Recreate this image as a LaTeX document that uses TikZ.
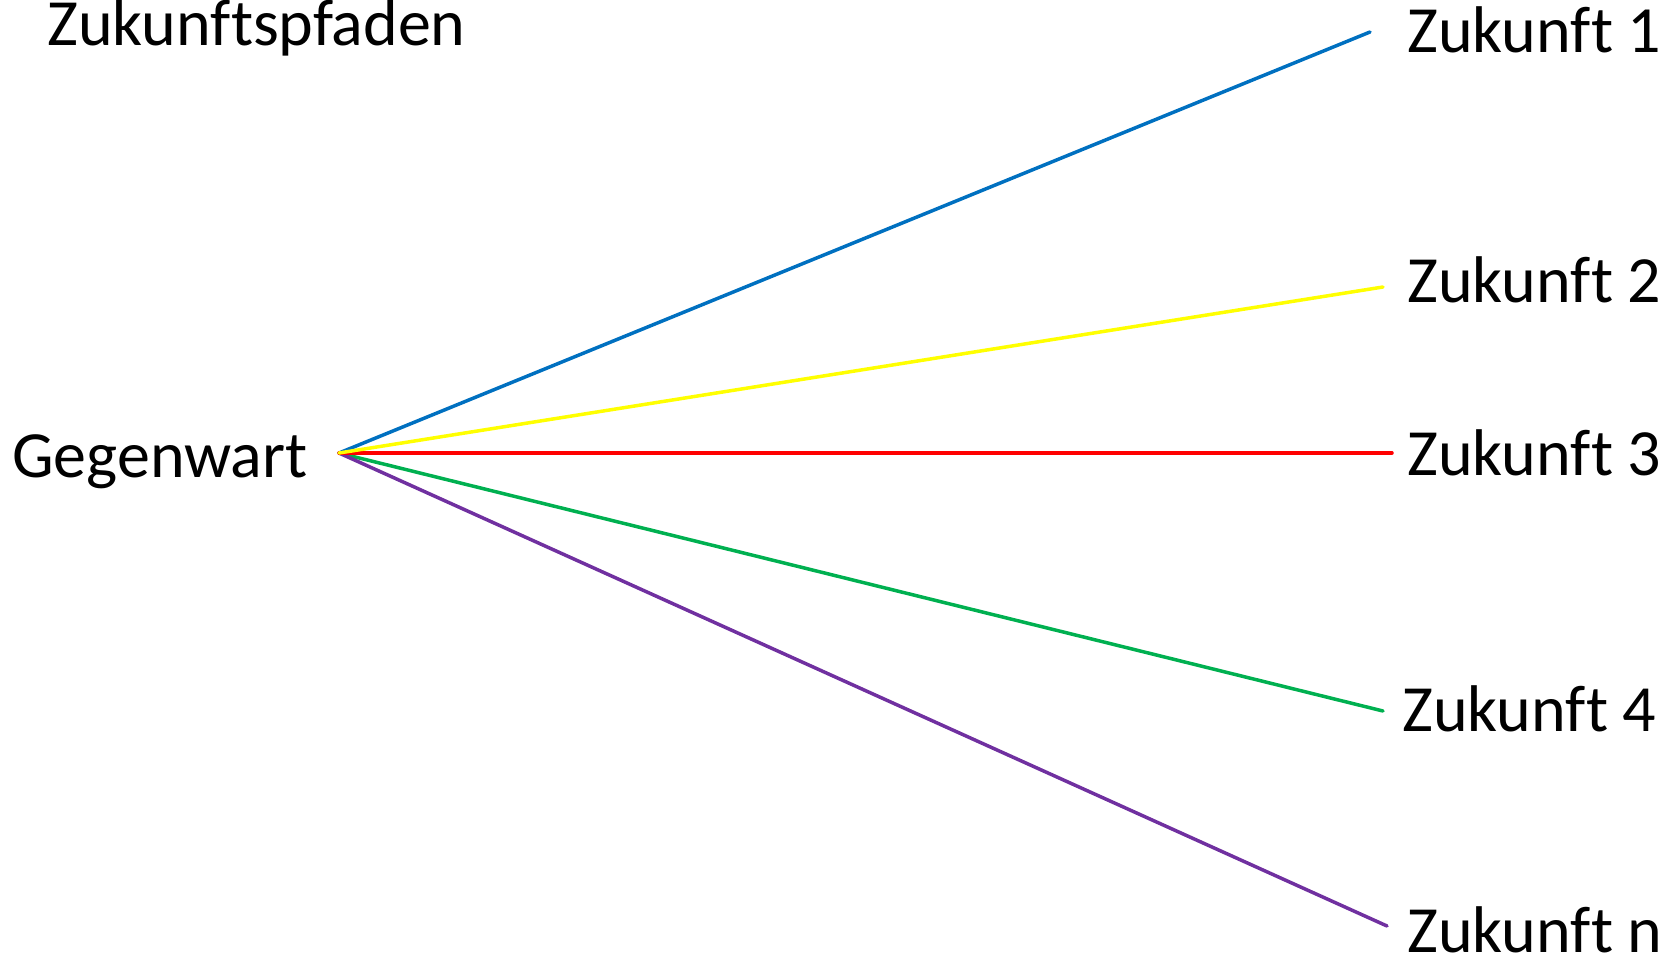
\documentclass[tikz,border=0pt]{standalone}
\usepackage{fontspec}
\setmainfont{Carlito}[Ligatures=NoCommon]
\usepackage{tikz}
\definecolor{pathblue}{HTML}{0070C0}
\definecolor{pathyellow}{HTML}{FFFF00}
\definecolor{pathred}{HTML}{FF0000}
\definecolor{pathgreen}{HTML}{00B050}
\definecolor{pathpurple}{HTML}{7030A0}

\begin{document}
\begin{tikzpicture}[
  x=1pt, y=-1pt,
  lbl/.style={anchor=base west, inner sep=0pt, font=\fontsize{66}{72}\selectfont},
  pfad/.style={line width=3.5pt, line cap=round},
]
\useasboundingbox (0,0) rectangle (1680,963);

% ---- title ----
\node[lbl] (title) at (47, 46) {Zukunftspfaden};

% ---- present (left) ----
\node[lbl] (now) at (12, 477) {Gegenwart};
\coordinate (start) at (339, 453);

% ---- futures (right) ----
\coordinate (e1) at (1370, 32);
\coordinate (e2) at (1383, 287);
\coordinate (e3) at (1392, 453);
\coordinate (e4) at (1383, 711);
\coordinate (en) at (1387, 926);

\node[lbl] (z1) at (1407, 53) {Zukunft 1};
\node[lbl] (z2) at (1407, 302) {Zukunft 2};
\node[lbl] (z3) at (1407, 475) {Zukunft 3};
\node[lbl] (z4) at (1402, 731) {Zukunft 4};
\node[lbl] (zn) at (1407, 952) {Zukunft n};

% ---- paths ----
\draw[pfad, pathblue] (start) -- (e1);
\draw[pfad, pathgreen] (start) -- (e4);
\draw[pfad, pathpurple] (start) -- (en);
\draw[pfad, pathred] (start) -- (e3);
\draw[pfad, pathyellow] (start) -- (e2);

\end{tikzpicture}
\end{document}
